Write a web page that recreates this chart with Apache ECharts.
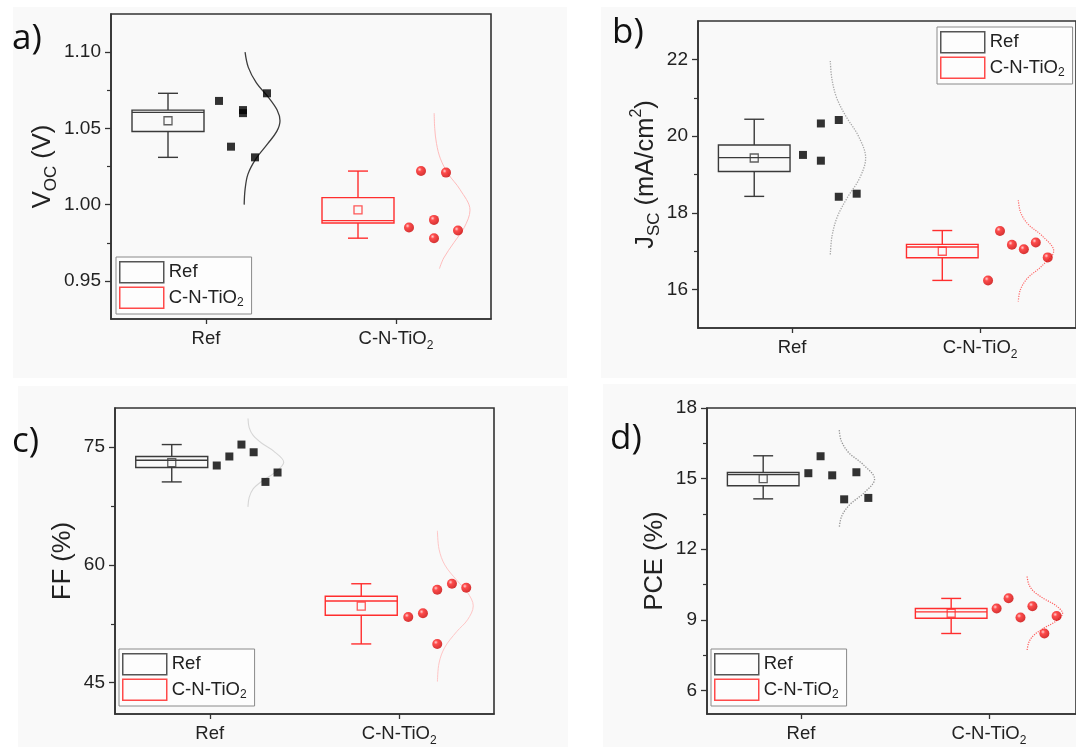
<!DOCTYPE html>
<html><head><meta charset="utf-8">
<script src="https://cdn.jsdelivr.net/npm/echarts@6/dist/echarts.min.js"></script>
<style>html,body{margin:0;padding:0;background:#fff}#c{width:1076px;height:747px}</style>
</head><body><div id="c"></div>
<script>
// ---------------- DATA ----------------
const categories = ['Ref', 'C-N-TiO2'];

// a) Voc (V)
const vocTicks = [0.95, 1.00, 1.05, 1.10];
const vocMinorTicks = [0.975, 1.025, 1.075];
const vocBoxRef = [1.031, 1.048, 1.0605, 1.062, 1.073];   // min, Q1, median, Q3, max
const vocBoxCN  = [0.978, 0.988, 0.9895, 1.0046, 1.022];
const vocMeans  = [1.055, 0.9965];
const vocPointsRef = [1.068, 1.038, 1.062, 1.060, 1.031, 1.073];
const vocPointsCN  = [0.985, 1.022, 0.990, 0.978, 1.021, 0.983];
const vocCurveRefY = [1.100, 1.090, 1.080, 1.070, 1.062, 1.055, 1.048, 1.040, 1.030, 1.020, 1.010, 1.000];
const vocCurveRefW = [0.03, 0.12, 0.34, 0.69, 0.92, 1.00, 0.91, 0.66, 0.33, 0.11, 0.03, 0.005];
const vocCurveCNY  = [1.060, 1.050, 1.040, 1.030, 1.020, 1.010, 0.9964, 0.985, 0.975, 0.965, 0.958];
const vocCurveCNW  = [0.005, 0.02, 0.07, 0.18, 0.40, 0.72, 1.00, 0.84, 0.55, 0.27, 0.15];

// b) Jsc (mA/cm2)
const jscTicks = [16, 18, 20, 22];
const jscMinorTicks = [17, 19, 21];
const jscBoxRef = [18.43, 19.08, 19.44, 19.77, 20.44];
const jscBoxCN  = [16.24, 16.83, 17.11, 17.18, 17.54];
const jscMeans  = [19.43, 17.00];
const jscPointsRef = [19.51, 20.33, 19.36, 20.42, 18.42, 18.50];
const jscPointsCN  = [16.24, 17.53, 17.17, 17.05, 17.23, 16.84];
const jscCurveRefY = [21.96, 21.5, 21.0, 20.5, 20.0, 19.43, 18.9, 18.4, 17.9, 17.4, 16.9];
const jscCurveRefW = [0.013, 0.056, 0.19, 0.46, 0.80, 1.00, 0.83, 0.49, 0.21, 0.062, 0.013];
const jscCurveCNY  = [18.33, 18.0, 17.7, 17.4, 17.01, 16.6, 16.3, 16.0, 15.69];
const jscCurveCNW  = [0.011, 0.08, 0.29, 0.68, 1.00, 0.65, 0.27, 0.07, 0.011];

// c) FF (%)
const ffTicks = [45, 60, 75];
const ffMinorTicks = [52.5, 67.5];
const ffBoxRef = [70.58, 72.42, 73.35, 73.82, 75.34];
const ffBoxCN  = [49.93, 53.58, 55.40, 56.00, 57.60];
const ffMeans  = [73.05, 54.76];
const ffPointsRef = [72.67, 73.82, 75.34, 74.36, 70.58, 71.78];
const ffPointsCN  = [53.36, 53.83, 56.84, 49.93, 57.60, 57.09];
const ffCurveRefY = [78.65, 77.5, 76.5, 75.5, 74.5, 73.09, 71.7, 70.7, 69.7, 68.6, 67.4];
const ffCurveRefW = [0.007, 0.04, 0.15, 0.39, 0.72, 1.00, 0.73, 0.40, 0.15, 0.04, 0.005];
const ffCurveCNY  = [64.35, 62.0, 60.0, 58.0, 56.5, 54.78, 53.0, 51.5, 49.5, 47.5, 45.13];
const ffCurveCNW  = [0.005, 0.05, 0.21, 0.55, 0.84, 1.00, 0.84, 0.54, 0.21, 0.05, 0.005];

// d) PCE (%)
const pceTicks = [6, 9, 12, 15, 18];
const pceMinorTicks = [7.5, 10.5, 13.5, 16.5];
const pceBoxRef = [14.14, 14.70, 15.17, 15.26, 15.97];
const pceBoxCN  = [8.42, 9.07, 9.34, 9.48, 9.91];
const pceMeans  = [15.00, 9.28];
const pcePointsRef = [15.23, 15.95, 15.14, 14.12, 15.27, 14.18];
const pcePointsCN  = [9.48, 9.92, 9.10, 9.58, 8.42, 9.16];
const pceCurveRefY = [17.06, 16.6, 16.1, 15.6, 14.98, 14.4, 13.9, 13.4, 12.9];
const pceCurveRefW = [0.013, 0.07, 0.28, 0.68, 1.00, 0.71, 0.31, 0.08, 0.013];
const pceCurveCNY  = [10.84, 10.5, 10.2, 9.9, 9.6, 9.28, 8.95, 8.65, 8.35, 8.05, 7.68];
const pceCurveCNW  = [0.01, 0.06, 0.20, 0.48, 0.82, 1.00, 0.82, 0.48, 0.20, 0.06, 0.008];

// ---------------- LAYOUT / STYLE ----------------
const F = '"Liberation Sans", Arial, sans-serif';
const REF_COLOR = '#3a3a3a';
const CN_COLOR = '#ff2e2e';
const BOX_OFF_PX = -38, BOX_HALF_PX = 36, CAP_HALF_PX = 10, CURVE_BASE_PX = 38, CURVE_AMP_PX = 36;

const panels = [
  { label: 'a)', labelPos: [12, 39], bg: [13, 7, 554, 371],
    grid: { left: 111, top: 14, width: 380, height: 305 }, xMax: 2.5, y: [0.925, 1.125], dec: 2,
    ticks: vocTicks, minor: vocMinorTicks, name: '{m|V}{s|OC}{m| (V)}', nameGap: 51,
    legend: { left: 116, top: 257 },
    box: [vocBoxRef, vocBoxCN], means: vocMeans, pts: [vocPointsRef, vocPointsCN],
    jit: [[13, 25, 37, 37, 49, 61], [13, 25, 38, 38, 50, 62]],
    curves: [[vocCurveRefY, vocCurveRefW], [vocCurveCNY, vocCurveCNW]],
    curveStyle: [{ color: '#3c3c3c', type: 'solid', width: 1.3 }, { color: '#ffbcbc', type: 'solid', width: 1 }] },
  { label: 'b)', labelPos: [612, 33], bg: [601, 7, 480, 371],
    grid: { left: 698, top: 21, width: 380, height: 307 }, xMax: 2.51, y: [15, 23], dec: 0,
    ticks: jscTicks, minor: jscMinorTicks, name: '{m|J}{s|SC}{m| (mA/cm}{p|2}{m|)}', nameGap: 35,
    legend: { left: 937, top: 27 },
    box: [jscBoxRef, jscBoxCN], means: jscMeans, pts: [jscPointsRef, jscPointsCN],
    jit: [[11, 29, 29, 47, 47, 65], [8, 20, 32, 44, 56, 68]],
    curves: [[jscCurveRefY, jscCurveRefW], [jscCurveCNY, jscCurveCNW]],
    curveStyle: [{ color: '#a8a8a8', type: 'dotted', width: 1.3 }, { color: '#ff6a6a', type: 'dotted', width: 1.2 }] },
  { label: 'c)', labelPos: [12, 442], bg: [18, 386, 550, 361],
    grid: { left: 115, top: 408, width: 379, height: 306 }, xMax: 2.5, y: [41, 80], dec: 0,
    ticks: ffTicks, minor: ffMinorTicks, name: '{m|FF (%)}', nameGap: 33,
    legend: { left: 119, top: 649 },
    box: [ffBoxRef, ffBoxCN], means: ffMeans, pts: [ffPointsRef, ffPointsCN],
    jit: [[7, 19.6, 31.7, 43.9, 55.7, 67.8], [9, 23.7, 38, 38, 52.7, 67]],
    curves: [[ffCurveRefY, ffCurveRefW], [ffCurveCNY, ffCurveCNW]],
    curveStyle: [{ color: '#d6d6d6', type: 'solid', width: 1.1 }, { color: '#ffc6c6', type: 'solid', width: 1 }] },
  { label: 'd)', labelPos: [610, 439], bg: [603, 384, 478, 363],
    grid: { left: 707, top: 408, width: 371, height: 306 }, xMax: 2.463, y: [5, 18], dec: 0,
    ticks: pceTicks, minor: pceMinorTicks, name: '{m|PCE (%)}', nameGap: 34,
    legend: { left: 711, top: 649 },
    box: [pceBoxRef, pceBoxCN], means: pceMeans, pts: [pcePointsRef, pcePointsCN],
    jit: [[7.4, 19.7, 31.4, 43.4, 55.7, 67.7], [7.7, 19.7, 31.7, 43.7, 55.7, 68]],
    curves: [[pceCurveRefY, pceCurveRefW], [pceCurveCNY, pceCurveCNW]],
    curveStyle: [{ color: '#959595', type: 'dotted', width: 1.3 }, { color: '#ff5c5c', type: 'dotted', width: 1.2 }] }
];

const labelRich = {
  m: { fontSize: 18.5, color: '#222', fontFamily: F, lineHeight: 26, verticalAlign: 'middle' },
  s: { fontSize: 12, color: '#222', fontFamily: F, lineHeight: 12, verticalAlign: 'bottom' }
};
const legendRich = {
  m: { fontSize: 18.5, color: '#222', fontFamily: F, lineHeight: 22, verticalAlign: 'middle' },
  s: { fontSize: 12, color: '#222', fontFamily: F, lineHeight: 12, verticalAlign: 'bottom' }
};
const nameRich = {
  m: { fontSize: 25.5, color: '#222', fontFamily: F, lineHeight: 34, verticalAlign: 'middle' },
  s: { fontSize: 17, color: '#222', fontFamily: F, lineHeight: 17, verticalAlign: 'bottom' },
  p: { fontSize: 16, color: '#222', fontFamily: F, lineHeight: 16, verticalAlign: 'top' }
};
function catLabel(name) { return name === categories[0] ? '{m|Ref}' : '{m|C-N-TiO}{s|2}'; }

const sphere = {
  type: 'radial', x: 0.36, y: 0.34, r: 0.7,
  colorStops: [{ offset: 0, color: '#ffc8c8' }, { offset: 0.3, color: '#ff2020' }, { offset: 1, color: '#c80000' }]
};

const grids = [], xAxes = [], yAxes = [], series = [], legends = [], graphics = [];
const axisLineStyle = { color: '#333', width: 1.6 };

panels.forEach((p, i) => {
  const ppu = p.grid.width / (p.xMax - 0.5);
  const u = px => px / ppu;
  graphics.push({ type: 'rect', z: -100, shape: { x: p.bg[0], y: p.bg[1], width: p.bg[2], height: p.bg[3] }, style: { fill: '#f9f9f9' } });
  graphics.push({ type: 'text', z: 10, x: p.labelPos[0], y: p.labelPos[1],
    style: { text: p.label, font: '35px "Open Sans", sans-serif', fill: '#111', verticalAlign: 'middle', align: 'left' } });

  grids.push(Object.assign({ show: true, borderColor: '#333', borderWidth: 1.6, backgroundColor: 'rgba(0,0,0,0)' }, p.grid));
  xAxes.push({
    gridIndex: i, type: 'value', min: 0.5, max: p.xMax,
    axisLine: { show: true, onZero: false, lineStyle: axisLineStyle },
    axisTick: { show: true, inside: false, length: 5, customValues: [1, 2], lineStyle: { color: '#333', width: 1.3 } },
    axisLabel: { show: true, customValues: [1, 2], margin: 7, formatter: v => catLabel(categories[v - 1]), rich: labelRich },
    splitLine: { show: false }
  });
  yAxes.push({
    gridIndex: i, type: 'value', min: p.y[0], max: p.y[1], position: 'left',
    axisLine: { show: true, onZero: false, lineStyle: axisLineStyle },
    axisTick: { show: true, inside: false, length: 6, customValues: p.ticks, lineStyle: { color: '#333', width: 1.3 } },
    axisLabel: { show: true, customValues: p.ticks, margin: 10, formatter: v => Number(v).toFixed(p.dec), fontSize: 19, color: '#222', fontFamily: F },
    splitLine: { show: false },
    name: p.name, nameLocation: 'middle', nameGap: p.nameGap,
    nameTextStyle: { fontSize: 25.5, color: '#222', fontFamily: F, lineHeight: 34, rich: nameRich }
  });
  yAxes.push({
    gridIndex: i, type: 'value', min: p.y[0], max: p.y[1], position: 'left',
    axisLine: { show: false },
    axisTick: { show: true, inside: false, length: 4, customValues: p.minor, lineStyle: { color: '#333', width: 1.2 } },
    axisLabel: { show: false }, splitLine: { show: false }
  });

  const xi = i, yi = 2 * i;
  [0, 1].forEach(k => {
    const color = k === 0 ? REF_COLOR : CN_COLOR;
    const cat = k + 1;
    // box + whiskers
    series.push({
      type: 'custom', name: categories[k], xAxisIndex: xi, yAxisIndex: yi, silent: true, z: 3,
      itemStyle: { color: 'rgba(0,0,0,0)', borderColor: color },
      encode: { x: 0, y: [1, 2, 3, 4, 5] },
      data: [[cat].concat(p.box[k])],
      renderItem: (params, api) => {
        const xc = api.value(0) + u(BOX_OFF_PX);
        const pMin = api.coord([xc, api.value(1)]), pQ1 = api.coord([xc, api.value(2)]);
        const pMed = api.coord([xc, api.value(3)]), pQ3 = api.coord([xc, api.value(4)]);
        const pMax = api.coord([xc, api.value(5)]);
        const hw = api.size([u(BOX_HALF_PX), 0])[0];
        const cw = api.size([u(CAP_HALF_PX), 0])[0];
        const st = { stroke: color, fill: null, lineWidth: 1.4 };
        const x0 = pQ1[0];
        return { type: 'group', children: [
          { type: 'rect', shape: { x: x0 - hw, y: pQ3[1], width: 2 * hw, height: pQ1[1] - pQ3[1] }, style: st },
          { type: 'line', shape: { x1: x0 - hw, y1: pMed[1], x2: x0 + hw, y2: pMed[1] }, style: st },
          { type: 'line', shape: { x1: x0, y1: pQ3[1], x2: x0, y2: pMax[1] }, style: st },
          { type: 'line', shape: { x1: x0, y1: pQ1[1], x2: x0, y2: pMin[1] }, style: st },
          { type: 'line', shape: { x1: x0 - cw, y1: pMax[1], x2: x0 + cw, y2: pMax[1] }, style: st },
          { type: 'line', shape: { x1: x0 - cw, y1: pMin[1], x2: x0 + cw, y2: pMin[1] }, style: st }
        ] };
      }
    });
    // mean marker
    series.push({
      type: 'scatter', name: 'mean-' + categories[k], xAxisIndex: xi, yAxisIndex: yi, silent: true, z: 4,
      symbol: 'rect', symbolSize: 8,
      itemStyle: { color: 'rgba(0,0,0,0)', borderColor: color, borderWidth: 1.3 },
      data: [[cat + u(BOX_OFF_PX), p.means[k]]]
    });
    // data points
    series.push({
      type: 'scatter', name: 'pts-' + categories[k], xAxisIndex: xi, yAxisIndex: yi, silent: true, z: 5,
      symbol: k === 0 ? 'rect' : 'circle', symbolSize: k === 0 ? 8 : 10,
      itemStyle: k === 0 ? { color: '#000' } : { color: sphere },
      data: p.pts[k].map((v, j) => [cat + u(p.jit[k][j]), v])
    });
    // distribution curve
    const cy = p.curves[k][0], cwid = p.curves[k][1];
    series.push({
      type: 'line', name: 'curve-' + categories[k], xAxisIndex: xi, yAxisIndex: yi, silent: true, z: 2,
      smooth: 0.35, showSymbol: false, symbol: 'none',
      lineStyle: p.curveStyle[k],
      data: cy.map((v, j) => [cat + u(CURVE_BASE_PX) + cwid[j] * u(CURVE_AMP_PX), v])
    });
  });

  legends.push({
    show: true, orient: 'vertical', left: p.legend.left, top: p.legend.top,
    itemWidth: 44, itemHeight: 21, itemGap: 3, padding: [4, 8, 5, 3],
    borderColor: '#8a8a8a', borderWidth: 1, backgroundColor: '#fdfdfd',
    selectedMode: false,
    data: [
      { name: categories[0], icon: 'rect', itemStyle: { color: 'rgba(0,0,0,0)', borderColor: '#555', borderWidth: 1.5 } },
      { name: categories[1], icon: 'rect', itemStyle: { color: 'rgba(0,0,0,0)', borderColor: '#ff4a4a', borderWidth: 1.5 } }
    ],
    formatter: catLabel,
    textStyle: { fontSize: 18.5, fontFamily: F, color: '#222', rich: legendRich }
  });
});

const chart = echarts.init(document.getElementById('c'), null, { renderer: 'canvas' });
chart.setOption({
  animation: false,
  backgroundColor: '#ffffff',
  grid: grids, xAxis: xAxes, yAxis: yAxes, series: series, legend: legends,
  graphic: { elements: graphics }
});
</script></body></html>
